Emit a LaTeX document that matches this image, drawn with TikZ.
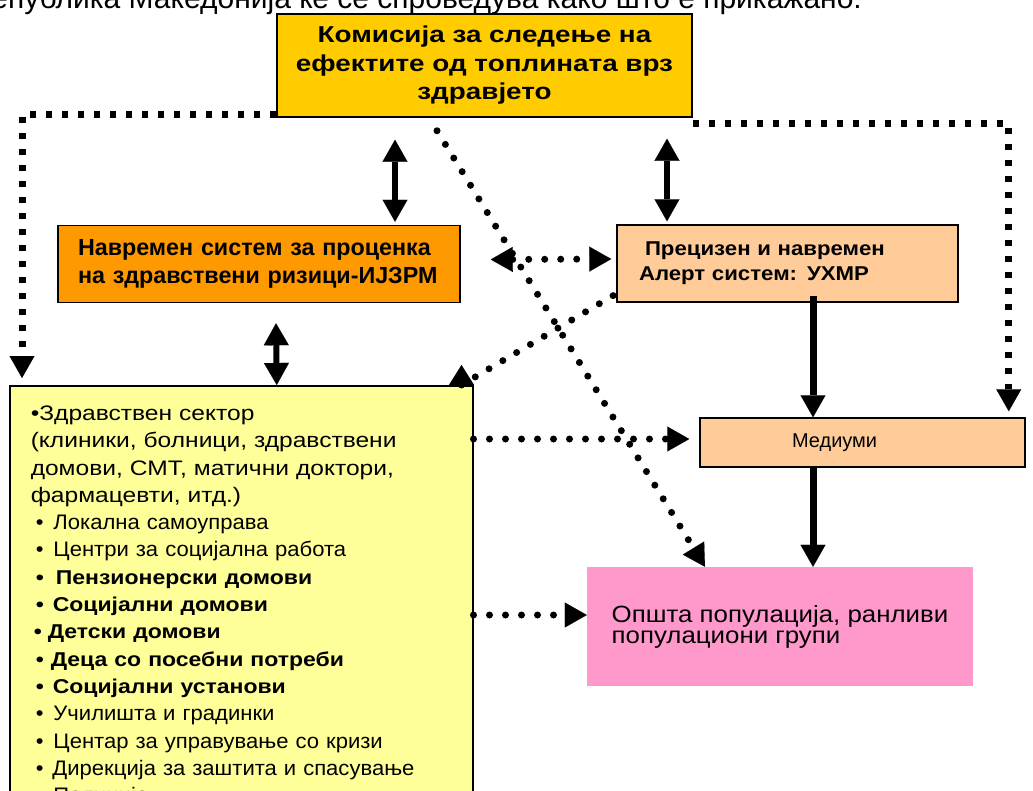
\documentclass[tikz,border=0pt]{standalone}
\usepackage{fontspec}
\setmainfont{Liberation Sans}
\newfontfamily\komfont{Liberation Sans}[FakeStretch=1.21]
\newfontfamily\uhmrfont{Liberation Sans}[FakeStretch=1.11]
\newfontfamily\popfont{Liberation Sans}[FakeStretch=1.10]
\newfontfamily\widesf{Liberation Sans}[FakeStretch=1.17]
\newfontfamily\itemsf{Liberation Sans}[FakeStretch=1.05]
\newfontfamily\boldsf{Liberation Sans}[FakeStretch=1.15]
\usetikzlibrary{arrows.meta}

\definecolor{komcol}{HTML}{FFCC00}
\definecolor{izjzcol}{HTML}{FF9900}
\definecolor{uhmrcol}{HTML}{FFCC99}
\definecolor{hlthcol}{HTML}{FFFF99}
\definecolor{popcol}{HTML}{FF99CC}

\newcommand\hblt[2]{\hspace*{#1}•\hspace{#2}}

\begin{document}
\begin{tikzpicture}[x=1pt, y=-1pt,
    >={Triangle[length=22pt,width=25pt,line width=0.1pt]},
    box/.style={draw, line width=1.5pt, inner sep=0pt},
    dbl/.style={line width=6pt, <->},
    sol/.style={line width=7pt, ->},
    rdot/.style={line width=7pt, line cap=round, dash pattern=on 0pt off 16pt},
    sqdot/.style={line width=7pt, dash pattern=on 6.5pt off 9.5pt, ->}]
    \useasboundingbox (0,0) rectangle (1033,790);

    \node[anchor=base east, inner sep=0pt, font=\fontsize{30}{32}\selectfont] (head) at (862,8)
        {Република Македонија ќе се спроведува како што е прикажано:};

    \node[box, fill=komcol, minimum width=415pt, minimum height=103pt, align=center,
        font=\komfont\bfseries\fontsize{23}{28.5}\selectfont] (kom) at (484.5,65.5)
        {Комисија за следење на\\ефектите од топлината врз\\здравјето};
    \node[box, fill=izjzcol, minimum width=402pt, minimum height=77pt, text width=362pt,
        inner xsep=20pt, align=left, font=\bfseries\fontsize{23.3}{28}\selectfont] (izjz) at (259,264)
        {Навремен систем за проценка\\на здравствени ризици-ИЈЗРМ};
    \node[box, fill=uhmrcol, minimum width=341pt, minimum height=77pt, text width=297pt,
        inner xsep=22pt, align=left, font=\uhmrfont\bfseries\fontsize{20}{25}\selectfont] (uhmr) at (787.5,263.5)
        {\hspace*{6pt}Прецизен и навремен\\Алерт систем: УХМР};
    \node[box, fill=uhmrcol, minimum width=325pt, minimum height=49pt, text width=141pt,
        inner xsep=92pt, align=left, font=\fontsize{20}{24}\selectfont] (med) at (862.5,442.5) {Медиуми};
    \node[fill=popcol, minimum width=386pt, minimum height=119pt, align=left,
        font=\popfont\fontsize{23.5}{21}\selectfont] (pop) at (780,626.5)
        {Општа популација, ранливи\\популациони групи};
    \node[box, fill=hlthcol, anchor=north west, minimum width=463pt, text width=421pt,
        inner xsep=21pt, inner ysep=20pt, align=left, font=\widesf\fontsize{21}{27.3}\selectfont] (hlth) at (9,385)
        {•Здравствен сектор\\
        (клиники, болници, здравствени\\
        домови, СМТ, матични доктори,\\
        фармацевти, итд.)\\
        {\itemsf\hblt{5pt}{10pt}Локална самоуправа}\\
        {\itemsf\hblt{5pt}{10pt}Центри за социјална работа}\\
        {\boldsf\bfseries\fontsize{20}{27.3}\selectfont\hblt{5pt}{12pt}Пензионерски домови}\\
        {\boldsf\bfseries\fontsize{20}{27.3}\selectfont\hblt{5pt}{9pt}Социјални домови}\\
        {\boldsf\bfseries\fontsize{20}{27.3}\selectfont\hblt{3pt}{6pt}Детски домови}\\
        {\boldsf\bfseries\fontsize{20}{27.3}\selectfont\hblt{5pt}{7pt}Деца со посебни потреби}\\
        {\boldsf\bfseries\fontsize{20}{27.3}\selectfont\hblt{5pt}{9pt}Социјални установи}\\
        {\itemsf\hblt{5pt}{10pt}Училишта и градинки}\\
        {\itemsf\hblt{5pt}{10pt}Центар за управување со кризи}\\
        {\itemsf\hblt{5pt}{9pt}Дирекција за заштита и спасување}\\
        {\itemsf\hblt{5pt}{10pt}Полиција}};

    \draw[dbl] ([xshift=-89.5pt,yshift=-22pt]kom.south) -- ([xshift=136pt,yshift=3pt]izjz.north);
    \draw[dbl] ([xshift=182.5pt,yshift=-21pt]kom.south) -- ([xshift=-120.5pt,yshift=3pt]uhmr.north);
    \draw[dbl] ([xshift=17pt,yshift=-20pt]izjz.south) -- ([xshift=35.5pt]hlth.north);
    \draw[sol] ([xshift=25.5pt,yshift=7pt]uhmr.south) -- ([xshift=-49.5pt]med.north);
    \draw[sol] ([xshift=-49.5pt]med.south) -- ([xshift=33pt]pop.north);

    \draw[rdot,<->] ([xshift=30pt,yshift=4.5pt]izjz.east) -- ([xshift=-5pt,yshift=4.5pt]uhmr.west);
    \draw[rdot,->] ([xshift=-47.5pt,yshift=-13pt]kom.south) -- ([xshift=-75pt]pop.north);
    \draw[rdot,{Triangle[length=20pt,width=25pt,line width=0.1pt]}-] ([xshift=-12pt,yshift=20pt]hlth.north east)
        -- ([xshift=-12pt]hlth.north east) -- ([yshift=9pt]uhmr.south west);
    \draw[rdot,->] ([yshift=-54pt]hlth.north east) -- ([xshift=-10pt,yshift=3.5pt]med.west);
    \draw[rdot,->] ([yshift=-230pt]hlth.north east) -- ([yshift=11.5pt]pop.west);
%    \draw[rdot,->] (hlth.east) -- (pop.west);

    \draw[sqdot] ([yshift=3pt]kom.south west) -| ([xshift=13pt,yshift=7pt]hlth.north west);
    \draw[sqdot] ([yshift=-6pt]kom.south east) -| ([xshift=-17pt,yshift=6pt]med.north east);
\end{tikzpicture}
\end{document}
